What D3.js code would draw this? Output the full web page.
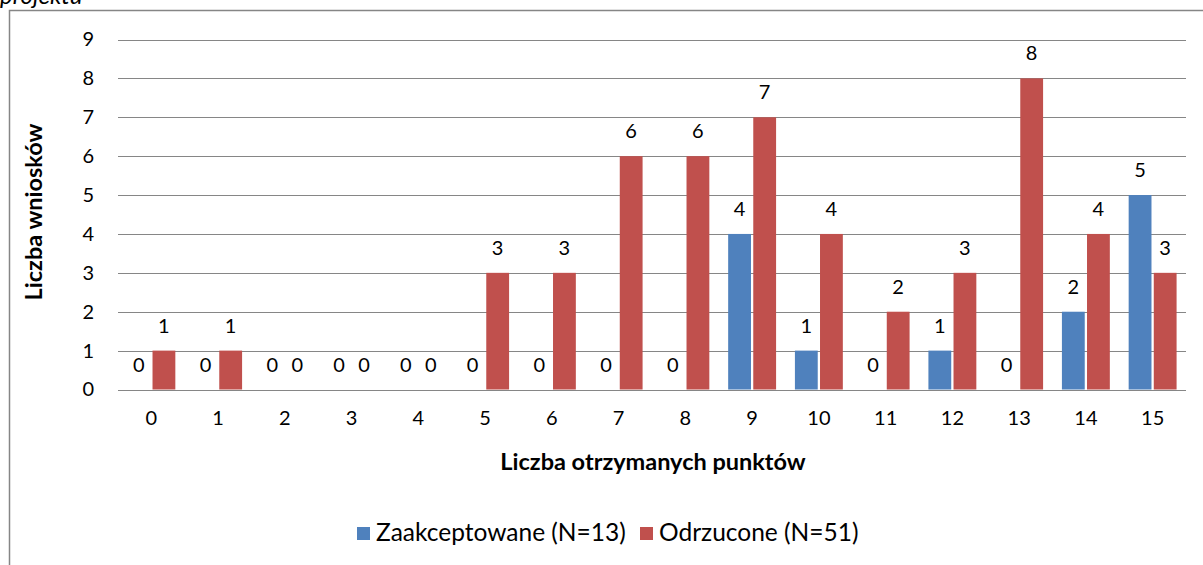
<!DOCTYPE html>
<html><head><meta charset="utf-8">
<script src="https://cdn.jsdelivr.net/npm/d3@7"></script>
<style>html,body{margin:0;padding:0;background:#fff;} svg{display:block;}</style>
</head><body>
<svg id="c" width="1203" height="565"></svg>
<script>
const categories = ["0","1","2","3","4","5","6","7","8","9","10","11","12","13","14","15"];
const accepted = [0,0,0,0,0,0,0,0,0,4,1,0,1,0,2,5];
const rejected = [1,1,0,0,0,3,3,6,6,7,4,2,3,8,4,3];
const seriesNames = ["Zaakceptowane (N=13)", "Odrzucone (N=51)"];
const yTicks = [0,1,2,3,4,5,6,7,8,9];
const colors = ["#4F81BD", "#C0504D"];
const FONT = "Lato, 'Open Sans', sans-serif";
const NUM = 20, TXT = 23.5, LEG = 24.5;

const svg = d3.select("#c");
// top cropped caption
svg.append("text").attr("x", 0).attr("y", 4).attr("font-family", FONT)
  .attr("font-style", "italic").attr("font-size", 24).attr("fill", "#000").text("projektu");
// frame
svg.append("rect").attr("x", 9.5).attr("y", 10.5).attr("width", 1220).attr("height", 600)
  .attr("fill", "none").attr("stroke", "#868686").attr("stroke-width", 1.5);

const x = d3.scaleBand().domain(categories).range([118, 1186]).paddingInner(0).paddingOuter(0);
const y = d3.scaleLinear().domain([0, 9]).range([389.5, 39.5]);
const sub = d3.scaleBand().domain([0,1]).range([0, x.bandwidth()]).paddingInner(0.2/2.2).paddingOuter(0.375);

// gridlines
svg.append("g").selectAll("line").data(yTicks).join("line")
  .attr("x1", 118).attr("x2", 1186)
  .attr("y1", d => Math.round(y(d)) + 0.5).attr("y2", d => Math.round(y(d)) + 0.5)
  .attr("stroke", "#868686").attr("stroke-width", 1);

// y axis labels
const yAxis = d3.axisLeft(y).tickValues(yTicks).tickSize(0).tickPadding(0);
const gy = svg.append("g").attr("transform", "translate(94,0)").call(yAxis);
gy.select(".domain").remove();
gy.selectAll("text").attr("font-family", FONT).attr("font-size", NUM).attr("fill", "#000");

// x axis labels
const xAxis = d3.axisBottom(x).tickSize(0).tickPadding(0);
const gx = svg.append("g").attr("transform", "translate(0,411)").call(xAxis);
gx.select(".domain").remove();
gx.selectAll("text").attr("font-family", FONT).attr("font-size", NUM).attr("fill", "#000");

const data = categories.map((c, i) => [accepted[i], rejected[i]]);
const groups = svg.append("g").selectAll("g").data(data).join("g")
  .attr("transform", (d, i) => `translate(${x(categories[i])},0)`);
groups.selectAll("rect").data(d => d.map((v, s) => ({v, s}))).join("rect")
  .attr("x", d => sub(d.s)).attr("width", sub.bandwidth())
  .attr("y", d => y(d.v)).attr("height", d => y(0) - y(d.v))
  .attr("fill", d => colors[d.s]);
groups.selectAll("text").data(d => d.map((v, s) => ({v, s}))).join("text")
  .attr("x", d => sub(d.s) + sub.bandwidth() / 2)
  .attr("y", d => y(d.v) - 18)
  .attr("text-anchor", "middle").attr("font-family", FONT).attr("font-size", NUM).attr("fill", "#000")
  .text(d => d.v);

// axis titles
svg.append("text").attr("x", 653).attr("y", 470).attr("text-anchor", "middle")
  .attr("font-family", FONT).attr("font-weight", "bold").attr("font-size", TXT).text("Liczba otrzymanych punktów");
svg.append("text").attr("transform", "translate(42,212) rotate(-90)").attr("text-anchor", "middle")
  .attr("font-family", FONT).attr("font-weight", "bold").attr("font-size", TXT).text("Liczba wniosków");

// legend
const legX = [357, 640];
const leg = svg.append("g").selectAll("g").data(seriesNames).join("g")
  .attr("transform", (d, i) => `translate(${legX[i]},527)`);
leg.append("rect").attr("width", 13).attr("height", 13).attr("fill", (d, i) => colors[i]);
leg.append("text").attr("x", 19).attr("y", 14).attr("font-family", FONT).attr("font-size", LEG)
  .attr("fill", "#000").text(d => d);
</script>
</body></html>
